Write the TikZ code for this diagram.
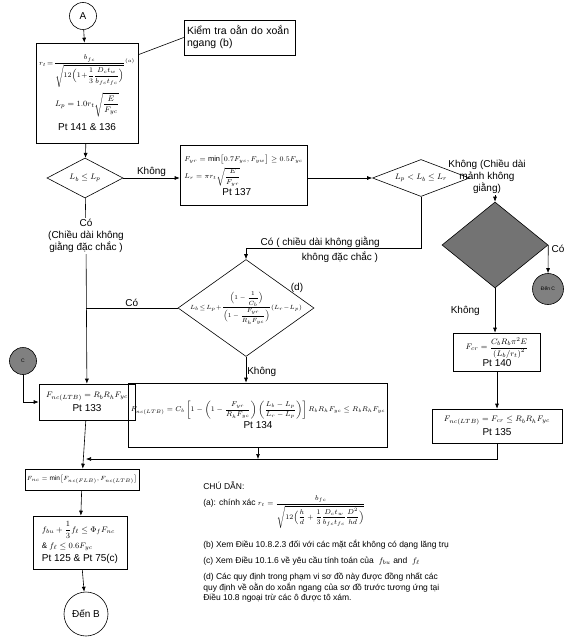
\documentclass[tikz,border=0pt]{standalone}
\usepackage{fontspec}
\setmainfont{Liberation Sans}
\usepackage{amsmath}
\usetikzlibrary{shapes.geometric,arrows.meta}
\tikzset{
  box/.style={draw,rectangle,inner sep=2pt,align=center,font=\fontsize{10}{12}\selectfont},
  dia/.style={draw,diamond,inner sep=0pt},
  lbl/.style={font=\fontsize{10}{12}\selectfont,align=center,inner sep=1pt},
  note/.style={font=\fontsize{8.5}{11}\selectfont,align=left,anchor=west,inner sep=0pt},
  grey/.style={draw,circle,fill=black!50,inner sep=0pt,font=\fontsize{5}{6}\selectfont},
  >={Latex[length=5pt,width=4pt]}
}
\newcommand{\fm}[2][8]{{\fontsize{#1}{#1}\selectfont$#2$}}
\begin{document}
\begin{tikzpicture}[x=1pt,y=-1pt,line width=.6pt]
\useasboundingbox (0,0) rectangle (573,639);
% left column
\node[draw,circle,minimum size=27,inner sep=0pt,lbl] (A) at (83,16) {A};
\node[box,minimum width=102,minimum height=100] (rt) at (87,93)
  {\fm[7.5]{r_t\!=\!\dfrac{b_{fc}}{\sqrt{12\Bigl(1\!+\!\dfrac{1}{3}\dfrac{D_ct_w}{b_{fc}t_{fc}}\Bigr)}}{}^{(a)}}\\[4pt]
   \fm{L_p=1.0r_t\sqrt{\dfrac{E}{F_{yc}}}}\hspace{16pt}\\[6pt] Pt 141 \& 136};
\node[box,minimum width=111,minimum height=35,text width=105,align=left,font=\fontsize{10.5}{12}\selectfont] (kt) at (239.5,37.5)
  {Kiểm tra oằn do xoắn\\ngang (b)};
\node[dia,minimum width=76,minimum height=40,label=center:{\fm{L_b\le L_p}}] (d1) at (85,178) {};
\node[lbl] (c1) at (86,236) {Có\\(Chiều dài không\\giằng đặc chắc )};
\node[grey,minimum size=27] (g1) at (23,361) {C};
\node[box,minimum width=96,minimum height=36] (b133) at (87,402)
  {\fm{F_{nc(LTB)}=R_bR_hF_{yc}}\\[2pt] Pt 133};
\node[box,minimum width=97,minimum height=21] (bmin) at (82,479.5)
  {\fm[6.5]{F_{nc}=\min\bigl[F_{nc(FLB)},F_{nc(LTB)}\bigr]}};
\node[box,minimum width=94,minimum height=53,align=left] (b125) at (80,542.5)
  {\fm{f_{bu}+\dfrac{1}{3}f_\ell\le\Phi_fF_{nc}}\\[4pt] \fm{\&\ f_\ell\le0.6F_{yc}}\\[1pt] Pt 125 \& Pt 75(c)};
\node[draw,circle,minimum size=44,inner sep=0pt,lbl] (B) at (86,614) {Đến B};
% middle column
\node[box,minimum width=127,minimum height=60,align=left] (b137) at (243.5,175)
  {\fm[7.5]{F_{yr}=\min\bigl[0.7F_{yc},F_{yw}\bigr]\ge0.5F_{yc}}\\[3pt]
   \fm[7.5]{L_r=\pi r_t\sqrt{\dfrac{E}{F_{yr}}}}\\[1pt] \hspace{38pt}Pt 137};
\node[dia,minimum width=97,minimum height=37,label=center:{\fm{L_p<L_b\le L_r}}] (d2) at (421,178) {};
\node[dia,minimum width=136,minimum height=97,
  label=center:{\fm[6.5]{L_b\!\le\! L_p\!+\!\dfrac{\Bigl(1-\dfrac{1}{C_b}\Bigr)}{\Bigl(1-\dfrac{F_{yr}}{R_hF_{yc}}\Bigr)}(L_r\!-\!L_p)}}] (d3) at (246,308) {};
\node[box,minimum width=230,minimum height=64] (b134) at (258,415)
  {\fm[7.5]{F_{nc(LTB)}=C_b\left[1-\left(1-\dfrac{F_{yr}}{R_hF_{yc}}\right)\left(\dfrac{L_b-L_p}{L_r-L_p}\right)\right]R_bR_hF_{yc}\le R_bR_hF_{yc}}\\[2pt] Pt 134};
% right column
\node[lbl] (c2) at (487,177) {Không (Chiều dài\\mảnh không\\giằng)};
\node[dia,fill=black!55,minimum width=106,minimum height=86] (gd) at (495,245) {};
\node[grey,minimum size=31] (g2) at (548,289) {Đến C};
\node[box,minimum width=87,minimum height=38] (b140) at (497,352)
  {\fm{F_{cr}=\dfrac{C_bR_b\pi^2E}{\left(L_b/r_t\right)^2}}\\ Pt 140};
\node[box,minimum width=130,minimum height=34] (b135) at (497,426)
  {\fm{F_{nc(LTB)}=F_{cr}\le R_bR_hF_{yc}}\\[2pt] Pt 135};
\coordinate (k2) at (246,248); \coordinate (jn) at (86,459);
% connectors
\draw[->] (A) -- (rt); \draw ([yshift=-12pt]rt.north east) -- (kt.west);
\draw[->] (rt) -- (d1); \draw (d1) -- (c1); \draw[->] (c1) -- (b133);
\draw[->] (d1.east) -- (d1.east -| b137.west) node[lbl,midway,above] {Không};
\draw[->] (b137.east |- d2.west) -- (d2.west);
\draw[->] (d2.south) |- (k2) -- (d3.north);
\node[lbl,anchor=east,align=right,font=\fontsize{10}{15}\selectfont] at (381,250) {Có ( chiều dài không giằng\\không đặc chắc )\,};
\draw (d3.west) -- (d3.west -| c1.south) node[lbl,midway,above] {Có};
\node[lbl] at (297,288) {(d)};
\draw[->] (d3.south) -- (d3.south |- b134.north) node[lbl,pos=.6,right] {Không};
\draw[->] (g1.south) |- (b133.west);
\draw[->] (c2.south -| gd.north) -- (gd.north);
\draw[->] (gd.east) -- (g2.north) node[lbl,pos=.15,right=2pt] {Có};
\draw[->] (gd.south) -- (gd.south |- b140.north) node[lbl,midway,left=14pt] {Không};
\draw[->] (b140) -- (b135);
\draw[->] (b135.south) |- (jn); \draw[->] (b134.south) -- (b134.south |- jn);
\draw[->] (b133) -- (bmin); \draw[->] (bmin) -- (b125); \draw[->] (b125) -- (B);
% legend
\node[note] at (203,486) {CHÚ DẪN:};
\node[note] at (203,512) {(a): chính xác \fm[7.5]{r_t=\dfrac{b_{fc}}{\sqrt{12\Bigl(\dfrac{h}{d}+\dfrac{1}{3}\dfrac{D_ct_w}{b_{fc}t_{fc}}\dfrac{D^2}{hd}\Bigr)}}}};
\node[note] at (203,545) {(b) Xem Điều 10.8.2.3 đối với các mặt cắt không có dạng lăng trụ};
\node[note] at (203,561) {(c) Xem Điều 10.1.6 về yêu cầu tính toán của \ \fm{f_{bu}} and \ \fm{f_\ell}};
\node[note,font=\fontsize{8.5}{10.5}\selectfont] at (203,588) {(d) Các quy định trong phạm vi sơ đồ này được đồng nhất các\\quy định về oằn do xoắn ngang của sơ đồ trước tương ứng tại\\Điều 10.8 ngoại trừ các ô được tô xám.};
\end{tikzpicture}
\end{document}
